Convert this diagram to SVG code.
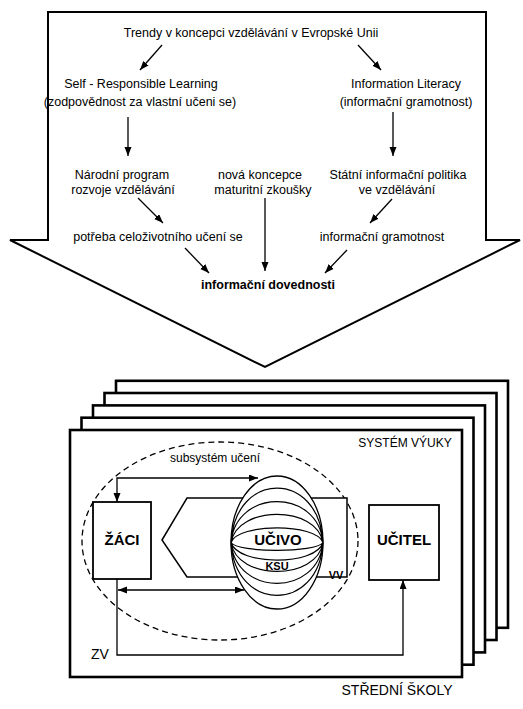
<svg xmlns="http://www.w3.org/2000/svg" width="523" height="709" viewBox="0 0 523 709">
<defs>
<style>
text{font-family:"Liberation Sans",Arial,sans-serif;fill:#000}
.t{font-size:12.5px;text-anchor:middle}
.b{font-weight:bold}
.big{font-size:15px;font-weight:bold;text-anchor:middle}
.ln{fill:none;stroke:#000;stroke-width:1.3}
.box{fill:#fff;stroke:#000;stroke-width:1.8}
.page{fill:#fff;stroke:#000;stroke-width:2.6}
.arc{fill:none;stroke:#000;stroke-width:1.2}
</style>
<marker id="ah" markerUnits="userSpaceOnUse" markerWidth="10" markerHeight="8" refX="9" refY="3.5" orient="auto-start-reverse">
<path d="M0,0 L9,3.5 L0,7 z" fill="#000"/>
</marker>
</defs>
<rect width="523" height="709" fill="#fff"/>

<g id="big-arrow">
<path d="M48,12 H486 V240 H520 L265,367 L10,240 H48 Z" fill="#fff" stroke="#000" stroke-width="2"/>
</g>

<g id="trendy"><text class="t" x="251" y="37">Trendy v koncepci vzdělávání v Evropské Unii</text></g>
<g id="self-learning"><text class="t" x="141" y="88">Self - Responsible Learning</text><text class="t" x="140" y="106">(zodpovědnost za vlastní učeni se)</text></g>
<g id="info-literacy"><text class="t" x="406" y="88">Information Literacy</text><text class="t" x="406" y="106">(informační gramotnost)</text></g>
<g id="narodni-program"><text class="t" x="122" y="179">Národní program</text><text class="t" x="123" y="193.5">rozvoje vzdělávání</text></g>
<g id="nova-koncepce"><text class="t" x="260" y="179">nová koncepce</text><text class="t" x="263" y="193.5">maturitní zkoušky</text></g>
<g id="statni-politika"><text class="t" x="398" y="179">Státní informační politika</text><text class="t" x="397" y="193.5">ve vzdělávání</text></g>
<g id="potreba"><text class="t" x="158" y="241">potřeba celoživotního učení se</text></g>
<g id="info-gramotnost"><text class="t" x="382" y="241">informační gramotnost</text></g>
<g id="info-dovednosti"><text class="t b" x="268" y="289">informační dovednosti</text></g>

<g id="pages">
<rect class="page" x="116" y="380.8" width="392" height="247"/>
<rect class="page" x="104.5" y="393" width="392" height="247"/>
<rect class="page" x="93" y="405.4" width="392" height="247"/>
<rect class="page" x="81.5" y="417.7" width="392" height="247"/>
<rect class="page" x="70" y="430" width="392" height="247"/>
<text x="405" y="446.5" style="font-size:12px;text-anchor:middle">SYSTÉM VÝUKY</text>
<text x="397" y="695" style="font-size:14px;text-anchor:middle">STŘEDNÍ ŠKOLY</text>
</g>

<g id="subsystem">
<ellipse cx="220" cy="541" rx="138" ry="99" fill="none" stroke="#000" stroke-width="1.3" stroke-dasharray="6 4"/>
<text x="215" y="462" style="font-size:12px;text-anchor:middle">subsystém učení</text>
</g>

<g id="vv">
<polygon points="162,540 187,498 347,498 347,577 187,577" fill="#fff" stroke="#000" stroke-width="1.5"/>
<text x="336" y="579" style="font-size:11px;font-weight:bold;text-anchor:middle">VV</text>
</g>

<g id="zaci">
<rect class="box" x="93" y="502" width="58" height="77"/>
<text class="big" x="122" y="545">ŽÁCI</text>
</g>

<g id="ucitel">
<rect class="box" x="369" y="505" width="70" height="75"/>
<text class="big" x="404" y="545">UČITEL</text>
</g>

<g id="ucivo">
<ellipse cx="277" cy="542.5" rx="46" ry="66.5" fill="#fff" stroke="#000" stroke-width="1.3"/>
<path class="arc" d="M231,542.5 C235,470 319,470 323,542.5 M231,542.5 C236,488 318,488 323,542.5 M231,542.5 C237,505 317,505 323,542.5 M231,542.5 C238,523 316,523 323,542.5"/>
<path class="arc" d="M231,542.5 C238,553 316,553 323,542.5 M231,542.5 C238,566 316,566 323,542.5 M231,542.5 C237,581 317,581 323,542.5 M231,542.5 C236,597 318,597 323,542.5 M231,542.5 C235,613 319,613 323,542.5"/>
<text class="big" x="278" y="544.5">UČIVO</text>
<text x="277" y="570" style="font-size:11px;font-weight:bold;text-anchor:middle">KSU</text>
</g>

<g id="connectors">
<path class="ln" d="M162,45 L140,70" marker-end="url(#ah)"/>
<path class="ln" d="M358,45 L381,70" marker-end="url(#ah)"/>
<path class="ln" d="M128,117 V156" marker-end="url(#ah)"/>
<path class="ln" d="M393,112 V156" marker-end="url(#ah)"/>
<path class="ln" d="M138,198 L163,223" marker-end="url(#ah)"/>
<path class="ln" d="M265,198 V271" marker-end="url(#ah)"/>
<path class="ln" d="M392,199 L370,223" marker-end="url(#ah)"/>
<path class="ln" d="M185,248 L209,273" marker-end="url(#ah)"/>
<path class="ln" d="M347,250 L325,273" marker-end="url(#ah)"/>
<path class="ln" d="M258,478 H117 V502" stroke-width="1.5" marker-start="url(#ah)" marker-end="url(#ah)"/>
<path class="ln" d="M118,590 H244" stroke-width="1.5" marker-start="url(#ah)" marker-end="url(#ah)"/>
<path class="ln" d="M117,579 V655 H403 V580" stroke-width="1.5" marker-end="url(#ah)"/>
<text x="91" y="659" style="font-size:14px">ZV</text>
</g>
</svg>
